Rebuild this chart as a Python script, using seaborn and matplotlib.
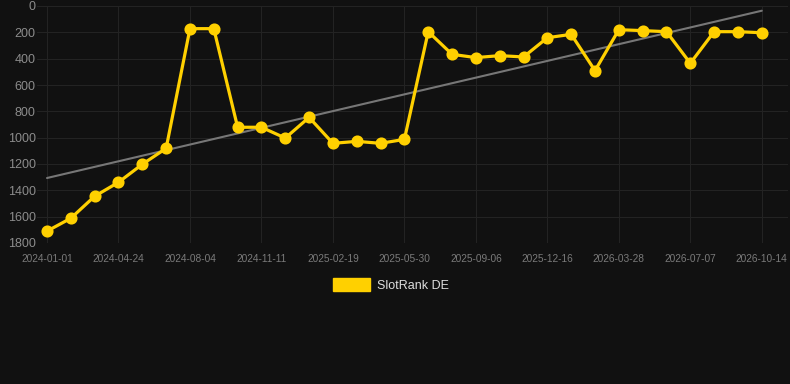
import numpy as np
import pandas as pd
import seaborn as sns
import matplotlib.pyplot as plt
from matplotlib.patches import Patch

# fechas (eje categórico) y posiciones de ranking
dates = ['2024-01-01', '2024-02-08', '2024-03-17', '2024-04-24', '2024-05-28', '2024-07-01',
         '2024-08-04', '2024-09-06', '2024-10-09', '2024-11-11', '2024-12-14', '2025-01-17',
         '2025-02-19', '2025-03-24', '2025-04-27', '2025-05-30', '2025-07-02', '2025-08-04',
         '2025-09-06', '2025-10-10', '2025-11-13', '2025-12-16', '2026-01-19', '2026-02-22',
         '2026-03-28', '2026-05-01', '2026-06-04', '2026-07-07', '2026-08-09', '2026-09-11',
         '2026-10-14']
ranks = [1710, 1612, 1445, 1339, 1202, 1081, 172, 172, 921, 921, 1003, 846,
         1043, 1028, 1043, 1013, 195, 367, 392, 377, 387, 241, 215, 491,
         180, 187, 195, 435, 195, 195, 203]
y_ticks = [0, 200, 400, 600, 800, 1000, 1200, 1400, 1600, 1800]
series_name = 'SlotRank DE'

bg = '#111111'
gold = '#FFD000'

df = pd.DataFrame({'date': dates, 'rank': ranks})

sns.set_style('dark')
plt.rcParams['font.family'] = ['Liberation Sans', 'DejaVu Sans']

fig = plt.figure(figsize=(7.9, 3.84), dpi=100, facecolor=bg)
ax = fig.add_axes([37 / 790, 1 - 243 / 384, (788 - 37) / 790, 237 / 384])
ax.set_facecolor(bg)

# tendencia lineal
sns.regplot(x=np.arange(len(ranks)), y=ranks, scatter=False, ci=None, ax=ax,
            line_kws={'color': '#777777', 'linewidth': 1.5, 'zorder': 2})

sns.pointplot(data=df, x='date', y='rank', color=gold, markers='o', markersize=7,
              linewidth=2.3, errorbar=None, ax=ax, zorder=3)

ax.set_ylim(1800, 0)
ax.set_xlim(-0.42, 31.1)
ax.set_yticks(y_ticks)
ax.set_yticklabels([str(v) for v in y_ticks], fontsize=9, color='#8c8c8c')
ax.set_xticks(range(0, len(dates), 3))
ax.set_xticklabels(dates[::3], fontsize=7.3, color='#7a7a7a')
ax.tick_params(axis='y', length=0, pad=1)
ax.tick_params(axis='x', length=0, pad=8)
ax.grid(True, color='#232323', linewidth=0.8)
ax.set_axisbelow(True)
for s in ax.spines.values():
    s.set_visible(False)
ax.set_xlabel('')
ax.set_ylabel('')

handle = Patch(facecolor=gold, edgecolor=gold)
leg = fig.legend([handle], [series_name], loc='center', bbox_to_anchor=(391 / 790, 1 - 285 / 384),
                 frameon=False, fontsize=9, handlelength=3.0, handleheight=1.2, handletextpad=0.55)
for t in leg.get_texts():
    t.set_color('#dddddd')

fig.savefig('out.png', dpi=100, facecolor=bg)
